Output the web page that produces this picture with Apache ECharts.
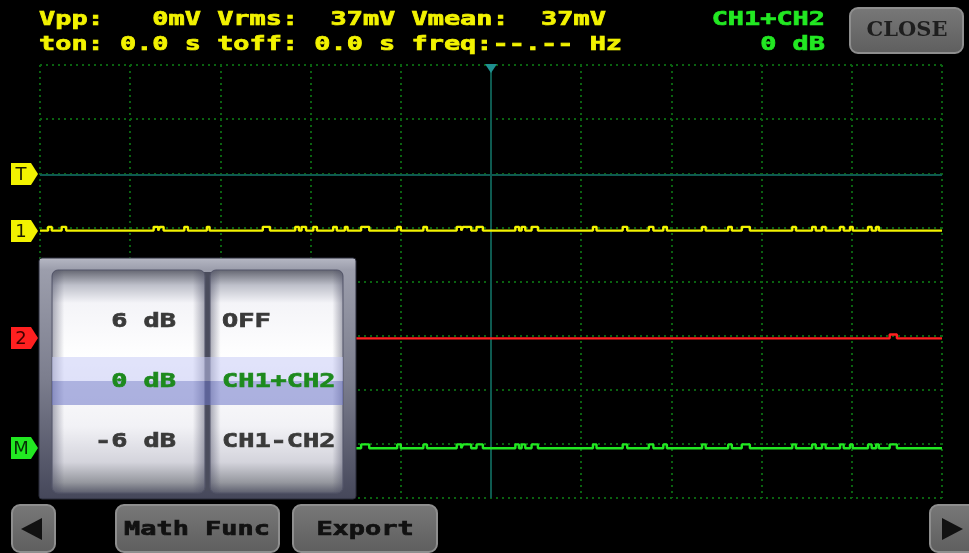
<!DOCTYPE html>
<html>
<head>
<meta charset="utf-8">
<style>
html, body { margin: 0; padding: 0; background: #000; }
#main { width: 969px; height: 553px; }
</style>
<script src="https://cdn.jsdelivr.net/npm/echarts@6/dist/echarts.min.js"></script>
</head>
<body>
<div id="main"></div>
<script>
// time axis: 1000 samples over 10 divisions, amplitude in divisions (-4..4)
var ch1Level = 0.94;
var ch2Level = -1.05;
var mathLevel = -3.08;
var trigLevel = 1.98;
var cursorPos = 500;
var pulseHeight = 0.07;

// glitch pulses as [start, end] sample pairs
var ch1Pulses = [[9, 13], [24, 29], [126, 131], [133, 137], [160, 164], [185, 188], [247, 255],
    [283, 287], [290, 295], [303, 307], [325, 329], [338, 341], [356, 365], [396, 400], [425, 429],
    [462, 467], [469, 478], [484, 491], [527, 531], [534, 538], [545, 552], [613, 617], [646, 651],
    [675, 680], [691, 695], [734, 738], [763, 767], [778, 787], [834, 838], [856, 860], [867, 871],
    [887, 891], [898, 901], [918, 922], [927, 930]];
var ch2Pulses = [[942, 950]];
var mathPulses = ch1Pulses.concat(ch2Pulses); // math = CH1 + CH2

var readoutLine1 = 'Vpp:   0mV Vrms:  37mV Vmean:  37mV';
var readoutLine2 = 'ton: 0.0 s toff: 0.0 s freq:--.-- Hz';
var mathMode = 'CH1+CH2';
var mathGain = '0 dB';
var gainItems = ['6 dB', '0 dB', '-6 dB'];
var modeItems = ['OFF', 'CH1+CH2', 'CH1-CH2'];
var selectedItem = 1;

var YELLOW = '#f2f200', RED = '#ff2020', GREEN = '#22e822', TEAL = '#0e5a50';

function buildTrace(level, pulses) {
    var pts = [[0, level]];
    pulses.slice().sort(function (a, b) { return a[0] - b[0]; }).forEach(function (p) {
        pts.push([p[0], level], [p[0], level + pulseHeight], [p[1], level + pulseHeight], [p[1], level]);
    });
    pts.push([1000, level]);
    return pts;
}

function trace(name, level, pulses, color) {
    return {
        name: name, type: 'line', data: buildTrace(level, pulses),
        showSymbol: false, symbol: 'none', silent: true,
        lineStyle: { color: color, width: 2.4 }, z: 5
    };
}

// pixel font look: DejaVu Mono stretched horizontally, thickened with a stroke
function monoText(str, x, y, color, align) {
    return {
        type: 'text', x: x, y: y, scaleX: 1.345, z: 130, silent: true,
        style: {
            text: str, fill: color, stroke: color, lineWidth: 0.7,
            font: 'bold 20px "DejaVu Sans Mono"', align: align || 'left', verticalAlign: 'middle'
        }
    };
}

function button(x, y, w, h) {
    return {
        type: 'rect', z: 110, silent: true,
        shape: { x: x, y: y, width: w, height: h, r: 8 },
        style: {
            fill: new echarts.graphic.LinearGradient(0, 0, 0, 1, [
                { offset: 0, color: '#787878' }, { offset: 1, color: '#5e5e5e' }]),
            stroke: '#8e8e8e', lineWidth: 2
        }
    };
}

var myChart = echarts.init(document.getElementById('main'));

var option = {
    backgroundColor: '#000',
    animation: false,
    grid: { left: 40, right: 27, top: 65, bottom: 55 },
    xAxis: {
        type: 'value', min: 0, max: 1000, interval: 100,
        axisLine: { show: false }, axisTick: { show: false }, axisLabel: { show: false },
        splitLine: { show: true, lineStyle: { color: '#0a6210', width: 2, type: [2, 4] } }
    },
    yAxis: {
        type: 'value', min: -4, max: 4, interval: 1,
        axisLine: { show: false }, axisTick: { show: false }, axisLabel: { show: false },
        splitLine: { show: true, lineStyle: { color: '#0a6210', width: 2, type: [2, 4] } }
    },
    series: [
        {
            name: 'ref', type: 'line', data: [], silent: true, z: 3,
            markLine: {
                silent: true, symbol: 'none', label: { show: false },
                lineStyle: { color: TEAL, width: 2, type: 'solid' },
                data: [{ yAxis: trigLevel }, { xAxis: cursorPos }]
            }
        },
        trace('CH1', ch1Level, ch1Pulses, YELLOW),
        trace('CH2', ch2Level, ch2Pulses, RED),
        trace('Math', mathLevel, mathPulses, GREEN)
    ]
};
myChart.setOption(option);

function yPix(v) { return myChart.convertToPixel({ yAxisIndex: 0 }, v); }
var cx = myChart.convertToPixel({ xAxisIndex: 0 }, cursorPos);

function marker(label, level, fill, textColor) {
    var y = Math.round(yPix(level));
    return [{
        type: 'polygon', z: 120, silent: true,
        shape: { points: [[11, y - 11], [31, y - 11], [38, y], [31, y + 11], [11, y + 11]] },
        style: { fill: fill }
    }, {
        type: 'text', x: 21, y: y + 1, z: 121, silent: true,
        style: { text: label, fill: textColor, font: '18px "DejaVu Sans"', align: 'center', verticalAlign: 'middle' }
    }];
}

var g = [];
// readouts
g.push(monoText(readoutLine1, 39, 20, YELLOW));
g.push(monoText(readoutLine2, 39, 45, YELLOW));
g.push(monoText(mathMode, 825, 20, GREEN, 'right'));
g.push(monoText(mathGain, 825, 45, GREEN, 'right'));

// cursor triangle
g.push({ type: 'polygon', z: 120, silent: true, shape: { points: [[cx - 6, 64], [cx + 6, 64], [cx, 73]] }, style: { fill: '#1f9090' } });

// channel markers
g = g.concat(marker('T', trigLevel, YELLOW, '#1a1a00'));
g = g.concat(marker('1', ch1Level, YELLOW, '#1a1a00'));
g = g.concat(marker('2', ch2Level, RED, '#400000'));
g = g.concat(marker('M', mathLevel, GREEN, '#063006'));

// close button
g.push(button(850, 8, 113, 45));
g.push({ type: 'text', x: 907, y: 31, z: 130, silent: true,
    style: { text: 'CLOSE', fill: '#1e1e1e', font: 'bold 21px "DejaVu Serif"', align: 'center', verticalAlign: 'middle' } });

// bottom buttons
g.push(button(12, 505, 43, 47));
g.push({ type: 'polygon', z: 120, silent: true, shape: { points: [[21, 529], [42, 518], [42, 540]] }, style: { fill: '#111' } });
g.push(button(116, 505, 163, 47));
g.push(monoText('Math Func', 197, 530, '#111', 'center'));
g.push(button(293, 505, 144, 47));
g.push(monoText('Export', 365, 530, '#111', 'center'));
g.push(button(930, 505, 50, 47));
g.push({ type: 'polygon', z: 120, silent: true, shape: { points: [[942, 518], [963, 529], [942, 540]] }, style: { fill: '#111' } });

// picker panel
g.push({ type: 'rect', z: 100, silent: true, shape: { x: 39, y: 258, width: 317, height: 241, r: 3 },
    style: {
        fill: new echarts.graphic.LinearGradient(0, 0, 0, 1, [
            { offset: 0, color: '#b6b8c4' }, { offset: 0.05, color: '#9c9eac' },
            { offset: 0.5, color: '#7c7e8e' }, { offset: 1, color: '#45475a' }]),
        stroke: '#2a2c3a', lineWidth: 1
    } });
g.push({ type: 'rect', z: 101, silent: true, shape: { x: 204, y: 272, width: 7, height: 219 }, style: { fill: '#4a4c5c' } });

function wheel(x, w) {
    var vert = new echarts.graphic.LinearGradient(0, 0, 0, 1, [
        { offset: 0, color: '#62646f' }, { offset: 0.07, color: '#bec0ca' },
        { offset: 0.15, color: '#f4f4f8' }, { offset: 0.4, color: '#ffffff' },
        { offset: 0.7, color: '#f2f2f6' }, { offset: 0.86, color: '#d4d4dc' },
        { offset: 0.95, color: '#96989f' }, { offset: 1, color: '#5a5c6c' }]);
    var horiz = new echarts.graphic.LinearGradient(0, 0, 1, 0, [
        { offset: 0, color: 'rgba(70,72,95,0.45)' }, { offset: 0.08, color: 'rgba(70,72,95,0)' },
        { offset: 0.92, color: 'rgba(70,72,95,0)' }, { offset: 1, color: 'rgba(70,72,95,0.45)' }]);
    return [
        { type: 'rect', z: 102, silent: true, shape: { x: x, y: 270, width: w, height: 223, r: 6 }, style: { fill: vert, stroke: '#55576a', lineWidth: 1 } },
        { type: 'rect', z: 103, silent: true, shape: { x: x, y: 270, width: w, height: 223, r: 6 }, style: { fill: horiz } }
    ];
}
g = g.concat(wheel(52, 153));
g = g.concat(wheel(210, 133));

// selection band
g.push({ type: 'rect', z: 104, silent: true, shape: { x: 52, y: 357, width: 291, height: 24 }, style: { fill: 'rgba(195,200,245,0.5)' } });
g.push({ type: 'rect', z: 104, silent: true, shape: { x: 52, y: 381, width: 291, height: 24 }, style: { fill: 'rgba(110,118,200,0.55)' } });

var rowY = [322, 382, 442];
gainItems.forEach(function (t, i) {
    g.push(monoText(t, 176, rowY[i], i === selectedItem ? '#1d8a1d' : '#3a3a3a', 'right'));
});
modeItems.forEach(function (t, i) {
    g.push(monoText(t, 222, rowY[i], i === selectedItem ? '#1d8a1d' : '#3a3a3a', 'left'));
});

myChart.setOption({ graphic: g });
</script>
</body>
</html>
